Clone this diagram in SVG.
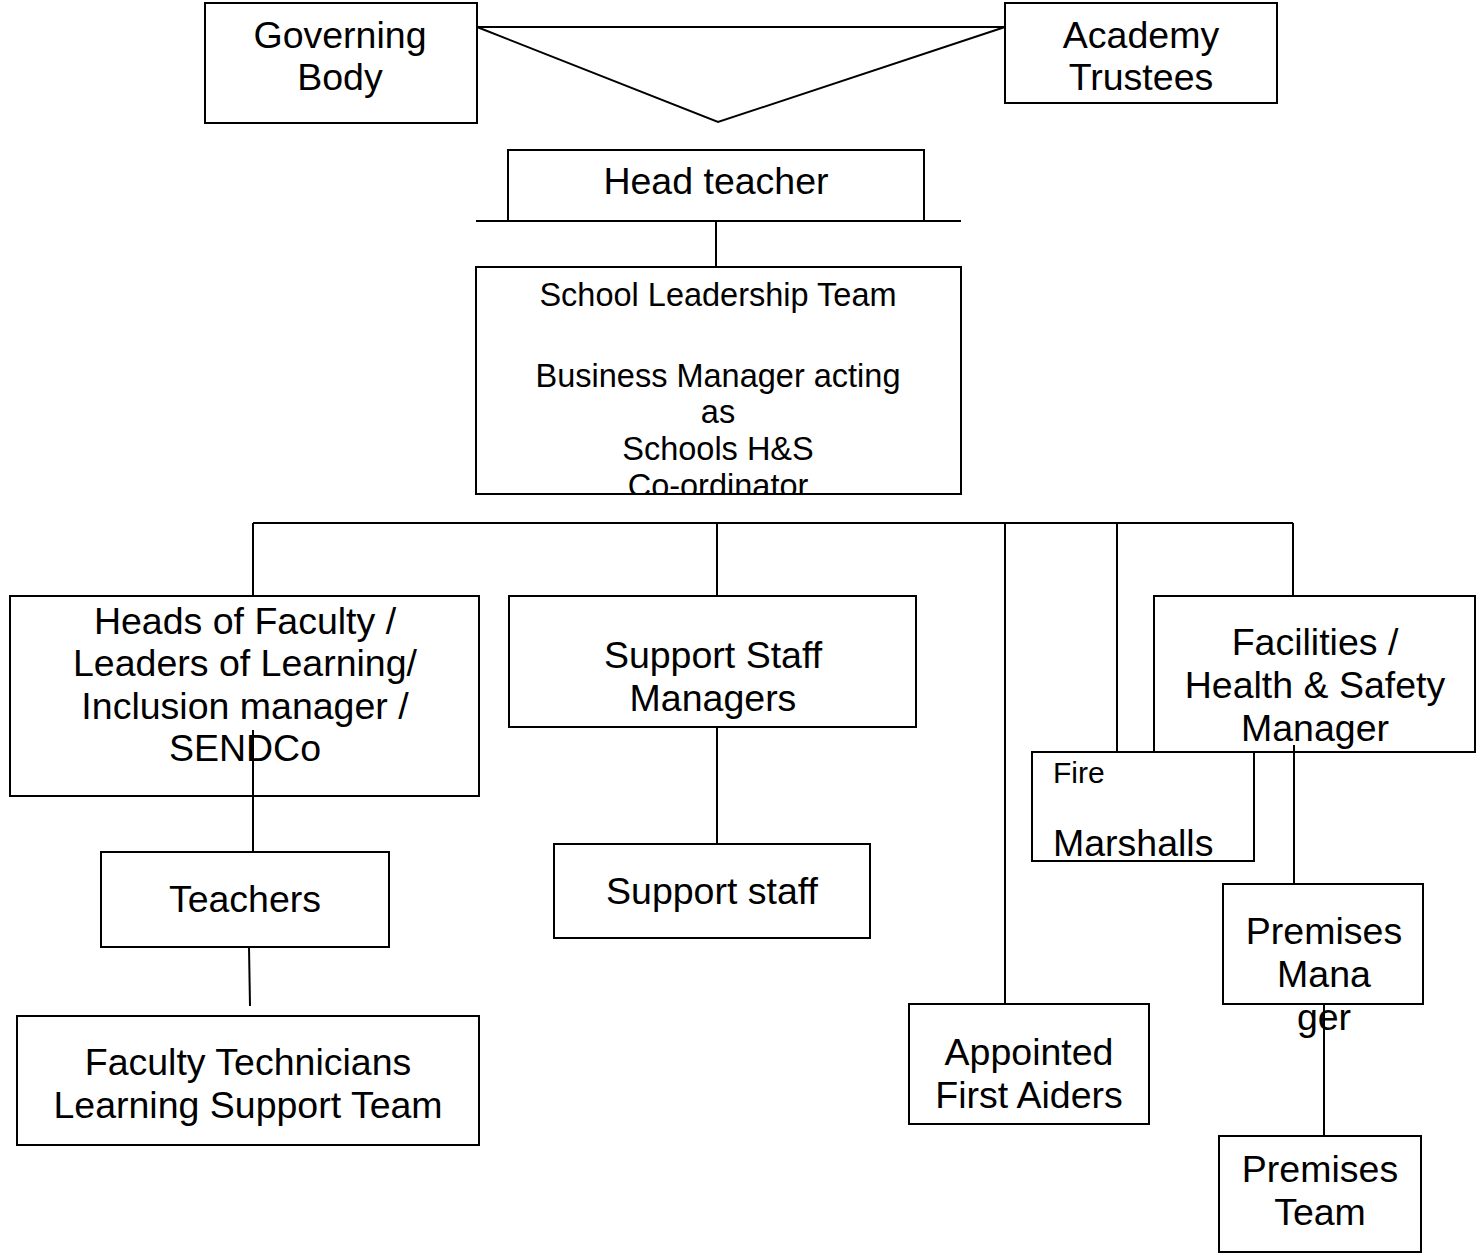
<svg xmlns="http://www.w3.org/2000/svg" width="1481" height="1259" viewBox="0 0 1481 1259">
<style>
.b{fill:#fff;stroke:#000;stroke-width:2}
.l{fill:none;stroke:#000;stroke-width:2}
text{font-family:"Liberation Sans",Arial,sans-serif;font-size:37.5px;fill:#000;text-anchor:middle}
.s{font-size:32.5px}
.f{font-size:30px;text-anchor:start}
.m{text-anchor:start}
</style>
<defs><clipPath id="sltclip"><rect x="476" y="267" width="485" height="226"/></clipPath></defs>
<rect width="1481" height="1259" fill="#fff"/>
<g id="gov"><rect class="b" x="205" y="3" width="272" height="120"/><text x="340" y="48">Governing</text><text x="340" y="90">Body</text></g>
<g id="trustees"><rect class="b" x="1005" y="3" width="272" height="100"/><text x="1141" y="48">Academy</text><text x="1141" y="90">Trustees</text></g>
<g id="head"><path class="l" d="M508,221 V150 H924 V221"/><text x="716" y="194">Head teacher</text></g>
<g id="slt"><rect class="b" x="476" y="267" width="485" height="227"/><g clip-path="url(#sltclip)"><text class="s" x="718" y="306">School Leadership Team</text><text class="s" x="718" y="387">Business Manager acting</text><text class="s" x="718" y="423">as</text><text class="s" x="718" y="460">Schools H&amp;S</text><text class="s" x="718" y="497">Co-ordinator</text></g></g>
<g id="hof"><rect class="b" x="10" y="596" width="469" height="200"/><text x="245" y="634">Heads of Faculty /</text><text x="245" y="676">Leaders of Learning/</text><text x="245" y="719">Inclusion manager /</text><text x="245" y="761">SENDCo</text></g>
<g id="teachers"><rect class="b" x="101" y="852" width="288" height="95"/><text x="245" y="912">Teachers</text></g>
<g id="tech"><rect class="b" x="17" y="1016" width="462" height="129"/><text x="248" y="1075">Faculty Technicians</text><text x="248" y="1118">Learning Support Team</text></g>
<g id="ssm"><rect class="b" x="509" y="596" width="407" height="131"/><text x="713" y="668">Support Staff</text><text x="713" y="711">Managers</text></g>
<g id="ss"><rect class="b" x="554" y="844" width="316" height="94"/><text x="712" y="904">Support staff</text></g>
<g id="aid"><rect class="b" x="909" y="1004" width="240" height="120"/><text x="1029" y="1065">Appointed</text><text x="1029" y="1108">First Aiders</text></g>
<g id="fac"><rect class="b" x="1154" y="596" width="321" height="156"/><text x="1315" y="655">Facilities /</text><text x="1315" y="698">Health &amp; Safety</text><text x="1315" y="741">Manager</text></g>
<g id="fire"><rect class="b" x="1032" y="752" width="222" height="109"/><text class="f" x="1053" y="783">Fire</text><text class="m" x="1053" y="856">Marshalls</text></g>
<g id="pm"><rect class="b" x="1223" y="884" width="200" height="120"/><text x="1324" y="944">Premises</text><text x="1324" y="987">Mana</text><text x="1324" y="1030">ger</text></g>
<g id="pt"><rect class="b" x="1219" y="1136" width="202" height="116"/><text x="1320" y="1182">Premises</text><text x="1320" y="1225">Team</text></g>
<g id="connectors" class="l">
<path d="M477,27 H1005 L718,122 Z"/>
<line x1="476" y1="221" x2="961" y2="221"/>
<line x1="716" y1="221" x2="716" y2="267"/>
<line x1="253" y1="523" x2="1293" y2="523"/>
<line x1="253" y1="523" x2="253" y2="596"/>
<line x1="717" y1="523" x2="717" y2="596"/>
<line x1="1005" y1="523" x2="1005" y2="1004"/>
<line x1="1117" y1="523" x2="1117" y2="752"/>
<line x1="1293" y1="523" x2="1293" y2="596"/>
<line x1="253" y1="730" x2="253" y2="852"/>
<line x1="249" y1="947" x2="250" y2="1006"/>
<line x1="717" y1="727" x2="717" y2="844"/>
<line x1="1294" y1="745" x2="1294" y2="884"/>
<line x1="1324" y1="1004" x2="1324" y2="1136"/>
</g>
</svg>
